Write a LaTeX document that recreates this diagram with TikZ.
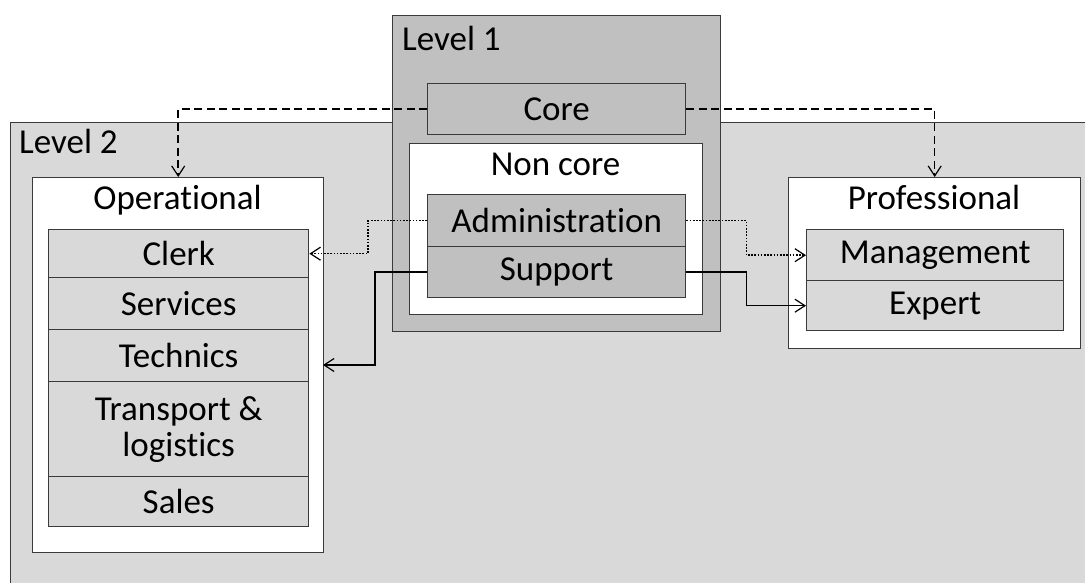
\documentclass[tikz,border=0pt]{standalone}
\usepackage{fontspec}
\setmainfont{Carlito}[Ligatures={NoCommon,NoRequired}]
\usetikzlibrary{arrows.meta}
\definecolor{lvone}{HTML}{C0C0C0}
\definecolor{lvtwo}{HTML}{D9D9D9}
\definecolor{edgec}{HTML}{3A3A3A}
\tikzset{
 box/.style={draw=edgec, line width=1.4pt, inner sep=0pt, anchor=north west, font=\fontsize{35}{36}\selectfont, align=center},
 lbl/.style={inner sep=0pt, anchor=base west, font=\fontsize{35}{36}\selectfont},
 conn/.style={line width=1.5pt, black, -{Straight Barb[length=10pt,width=13pt,line width=1.2pt]}},
 dashconn/.style={conn, dash pattern=on 8pt off 4.5pt},
 dotconn/.style={conn, dash pattern=on 1.7pt off 1.5pt},
}
\begin{document}
\begin{tikzpicture}[x=1pt,y=-1pt]
\useasboundingbox (0,0) rectangle (1085,583);
\clip (0,0) rectangle (1085,583);
\fill[white] (0,0) rectangle (1085,583);
% Level 2
\node[box, fill=lvtwo, minimum width=1090pt, minimum height=480pt] (l2) at (10,122) {};
\node[lbl] (l2t) at (19,154) {Level 2};
% Level 1
\node[box, fill=lvone, minimum width=328pt, minimum height=316pt] (l1) at (392,15) {};
\node[lbl] (l1t) at (402,51) {Level 1};
\node[box, fill=lvone, minimum width=258pt, minimum height=51pt] (core) at (427,83) {Core};
\node[box, fill=white, minimum width=293pt, minimum height=171pt] (nc) at (409,143) {};
\node[lbl, anchor=base] (nct) at (555.5,176) {Non core};
\node[box, fill=lvone, minimum width=258pt, minimum height=52pt] (admin) at (427,194) {Administration};
\node[box, fill=lvone, minimum width=258pt, minimum height=51pt] (support) at (427,246) {Support};
% Operational
\node[box, fill=white, minimum width=291pt, minimum height=375pt] (oper) at (32,177) {};
\node[lbl, anchor=base] (opert) at (177.5,209) {Operational};
\node[box, fill=lvtwo, minimum width=260pt, minimum height=48pt] (clerk) at (48,229) {Clerk};
\node[box, fill=lvtwo, minimum width=260pt, minimum height=52pt] (services) at (48,277) {Services};
\node[box, fill=lvtwo, minimum width=260pt, minimum height=52pt] (technics) at (48,329) {Technics};
\node[box, fill=lvtwo, minimum width=260pt, minimum height=95pt] (transport) at (48,381) {Transport \&\\logistics};
\node[box, fill=lvtwo, minimum width=260pt, minimum height=50pt] (sales) at (48,476) {Sales};
% Professional
\node[box, fill=white, minimum width=292pt, minimum height=171pt] (prof) at (788,177) {};
\node[lbl, anchor=base] (proft) at (934,209) {Professional};
\node[box, fill=lvtwo, minimum width=257pt, minimum height=51pt] (mgmt) at (806,229) {Management};
\node[box, fill=lvtwo, minimum width=257pt, minimum height=50pt] (expert) at (806,280) {Expert};
\coordinate (opin) at (323,365);
% connectors
\draw[dashconn] (core.west) -| (oper.north);
\draw[dashconn] (core.east) -| (prof.north);
\draw[dotconn] (admin.west) -- ++(-59,0) |- (clerk.east);
\draw[dotconn] (admin.east) -- ++(60,0) |- (mgmt.west);
\draw[conn] (support.west) -- ++(-52,0) |- (opin);
\draw[conn] (support.east) -- ++(60,0) |- (expert.west);
\end{tikzpicture}
\end{document}
